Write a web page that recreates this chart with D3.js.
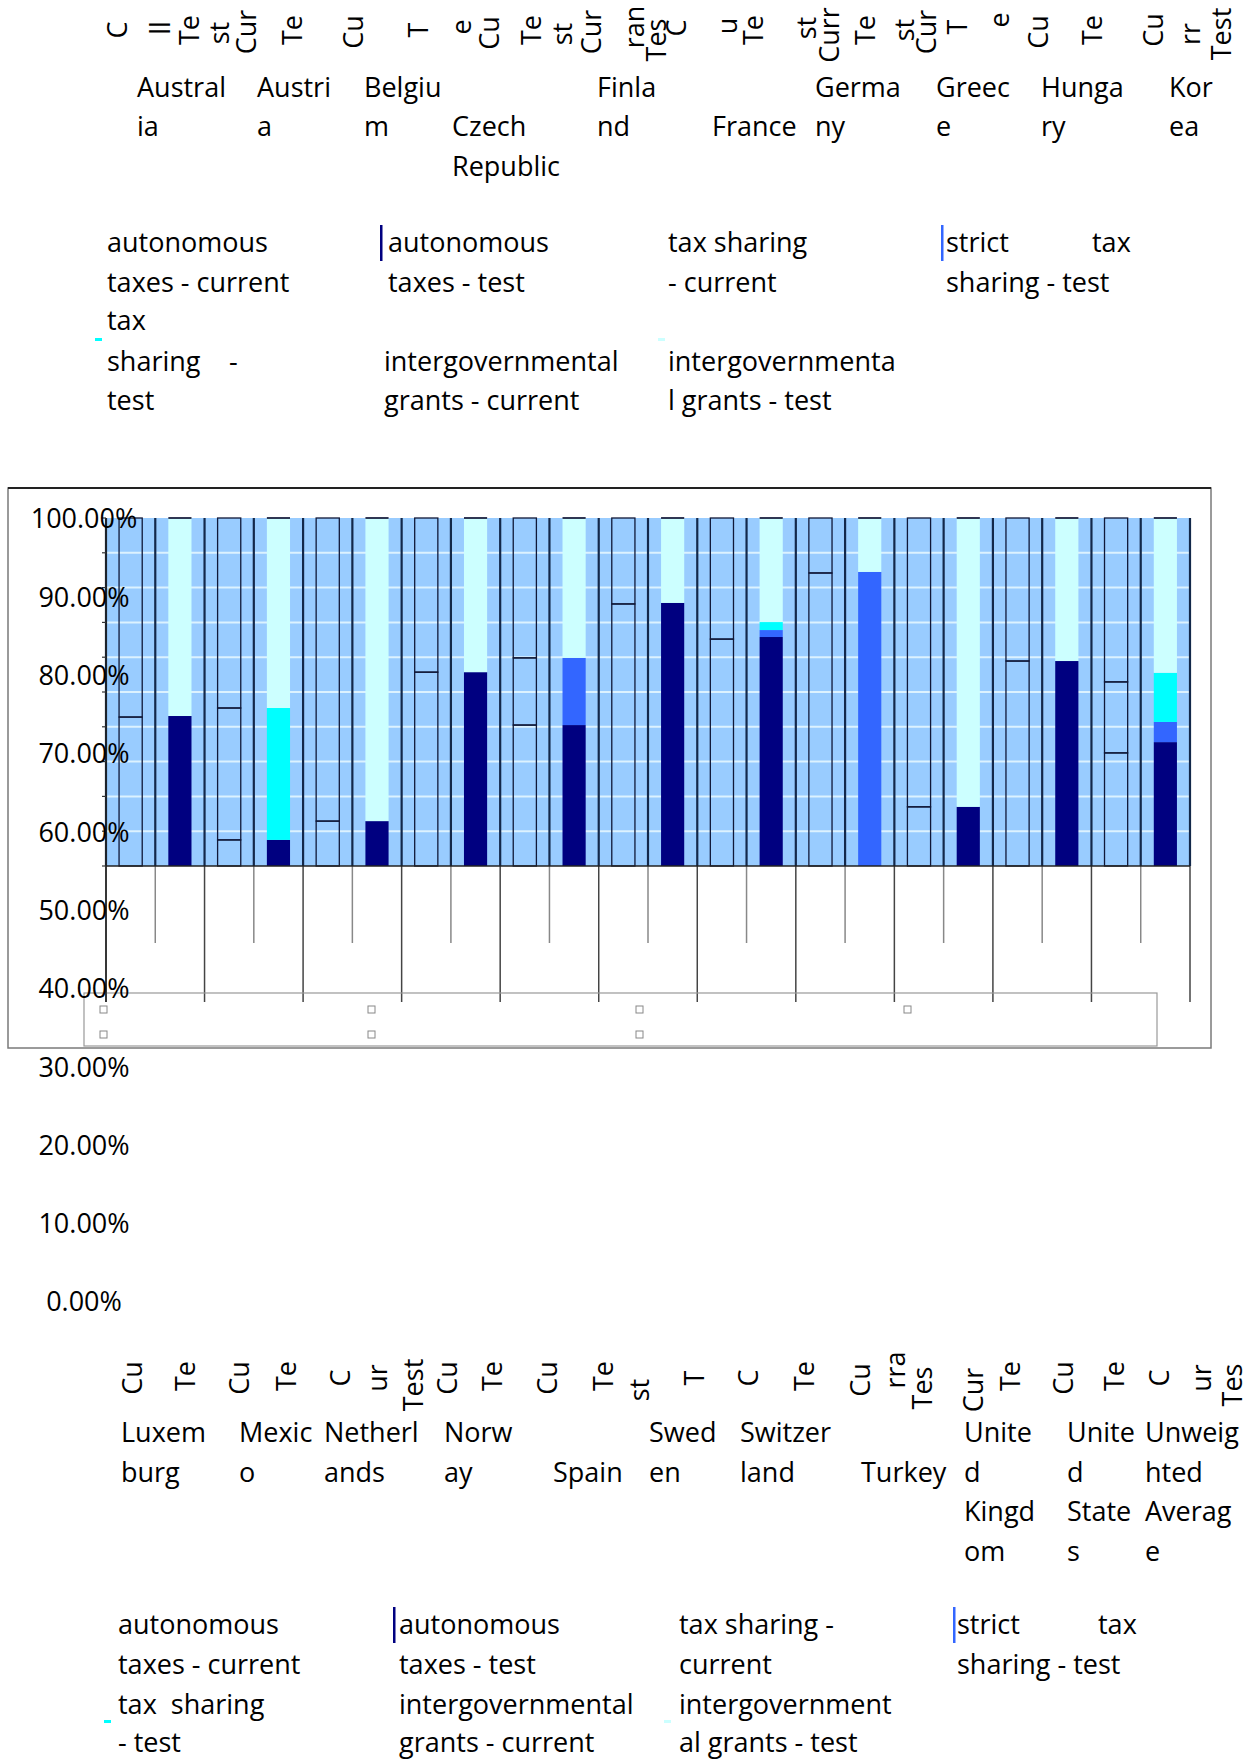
<!DOCTYPE html>
<html lang="en">
<head>
<meta charset="utf-8">
<title>Revenue structure: current vs test</title>
<script src="https://cdn.jsdelivr.net/npm/d3@7"></script>
<style>
  body { margin: 0; background: #fff; }
  svg text { font-family: "Open Sans", "Noto Sans", sans-serif; fill: #000; }
</style>
</head>
<body>
<script>
// ---- data ----
var groups = ["Australia", "Austria", "Belgium", "Czech Republic", "Finland", "France",
              "Germany", "Greece", "Hungary", "Korea", "Luxembourg"];

// current (outlined bars)
var autonomousCurrent = [0.428, 0.075, 0.129, 0.557, 0.405, 0.753, 0.652, 0.000, 0.170, 0.589, 0.325];
var taxSharingCurrent = [0.000, 0.379, 0.000, 0.000, 0.193, 0.000, 0.000, 0.842, 0.000, 0.000, 0.204];
var grantsCurrent     = [0.572, 0.546, 0.871, 0.443, 0.402, 0.247, 0.348, 0.158, 0.830, 0.411, 0.471];

// test (filled bars)
var autonomousTest    = [0.431, 0.075, 0.129, 0.557, 0.405, 0.756, 0.658, 0.000, 0.170, 0.589, 0.356];
var strictSharingTest = [0.000, 0.000, 0.000, 0.000, 0.193, 0.000, 0.020, 0.845, 0.000, 0.000, 0.058];
var taxSharingTest    = [0.000, 0.379, 0.000, 0.000, 0.000, 0.000, 0.023, 0.000, 0.000, 0.000, 0.141];
var grantsTest        = [0.569, 0.546, 0.871, 0.443, 0.402, 0.244, 0.299, 0.155, 0.830, 0.411, 0.445];

var yTicks = [0, 0.1, 0.2, 0.3, 0.4, 0.5, 0.6, 0.7, 0.8, 0.9, 1.0];

var seriesNames = ["autonomous taxes - current", "autonomous taxes - test", "tax sharing - current",
                   "strict tax sharing - test", "tax sharing - test",
                   "intergovernmental grants - current", "intergovernmental grants - test"];

// axis labels as they were broken in the picture ("|" = line break)
var topCountries = ["Austral|ia", "Austri|a", "Belgiu|m", "Czech|Republic", "Finla|nd", "France",
                    "Germa|ny", "Greec|e", "Hunga|ry", "Kor|ea"];
var bottomCountries = ["Luxem|burg", "Mexic|o", "Netherl|ands", "Norw|ay", "Spain", "Swed|en",
                       "Switzer|land", "Turkey", "Unite|d|Kingd|om", "Unite|d|State|s", "Unweig|hted|Averag|e"];

// clipped rotated fragments of the "Current"/"Test" labels
var topSnips = ["C", "ll", "Te", "st", "Cur", "Te", "Cu", "T", "e", "Cu", "Te", "st", "Cur", "ran", "Tes",
                "C", "u", "Te", "st", "Curr", "Te", "st", "Cur", "T", "e", "Cu", "Te", "Cu", "rr", "Test"];
var bottomSnips = ["Cu", "Te", "Cu", "Te", "C", "ur", "Test", "Cu", "Te", "Cu", "Te", "st", "T", "C", "Te",
                   "Cu", "rra", "Tes", "Cur", "Te", "Cu", "Te", "C", "ur", "Tes"];

// legend text as wrapped in the picture: [column, row, text, dx]
var legendTopLines = [
  [0, 0, "autonomous", 0], [0, 1, "taxes - current", 0], [0, 2, "tax", 0], [0, 3, "sharing", 0], [0, 3, "-", 122], [0, 4, "test", 0],
  [1, 0, "autonomous", 4], [1, 1, "taxes - test", 4], [1, 3, "intergovernmental", 0], [1, 4, "grants - current", 0],
  [2, 0, "tax sharing", 0], [2, 1, "- current", 0], [2, 3, "intergovernmenta", 0], [2, 4, "l grants - test", 0],
  [3, 0, "strict", 0], [3, 0, "tax", 146], [3, 1, "sharing - test", 0]
];
var legendBottomLines = [
  [0, 0, "autonomous", 0], [0, 1, "taxes - current", 0], [0, 2, "tax  sharing", 0], [0, 3, "- test", 0],
  [1, 0, "autonomous", 0], [1, 1, "taxes - test", 0], [1, 2, "intergovernmental", 0], [1, 3, "grants - current", 0],
  [2, 0, "tax sharing -", 0], [2, 1, "current", 0], [2, 2, "intergovernment", 0], [2, 3, "al grants - test", 0],
  [3, 0, "strict", 0], [3, 0, "tax", 141], [3, 1, "sharing - test", 0]
];

// ---- layout ----
var W = 1256, H = 1762;
var fontSize = 27;
var colors = {
  "autonomous taxes - test": "#000080",
  "strict tax sharing - test": "#3366ff",
  "tax sharing - test": "#00ffff",
  "intergovernmental grants - test": "#ccffff"
};

var svg = d3.select("body").append("svg")
    .attr("width", W)
    .attr("height", H);

var barKeys = [];
groups.forEach(function (g) { barKeys.push(g + "|current", g + "|test"); });

var x = d3.scaleBand().domain(barKeys).range([106, 1190])
    .paddingInner(0.53).paddingOuter(0.265);
var yPlot = d3.scaleLinear().domain([0, 1]).range([866, 518]);   // inner plot scale
var yLab = d3.scaleLinear().domain([0, 1]).range([1302, 519]);   // misplaced label scale

// chart frame
svg.append("rect")
    .attr("x", 8).attr("y", 488).attr("width", 1203).attr("height", 560)
    .attr("fill", "none").attr("stroke", "#7a7a7a").attr("stroke-width", 1.5);
svg.append("line")
    .attr("x1", 8).attr("x2", 1211).attr("y1", 488).attr("y2", 488)
    .attr("stroke", "#222").attr("stroke-width", 2);

// plot background
svg.append("rect")
    .attr("x", x.range()[0]).attr("y", yPlot(1))
    .attr("width", x.range()[1] - x.range()[0]).attr("height", yPlot(0) - yPlot(1))
    .attr("fill", "#99ccff");

svg.selectAll("line.grid")
    .data(yTicks.slice(1, -1))
    .enter().append("line")
    .attr("class", "grid")
    .attr("x1", x.range()[0]).attr("x2", x.range()[1])
    .attr("y1", function (d) { return yPlot(d); })
    .attr("y2", function (d) { return yPlot(d); })
    .attr("stroke", "#dcf2ff").attr("stroke-width", 2);

// separators between bars, continuing under the plot
var gap = x.step() * x.paddingInner() / 2;
var sepX = barKeys.map(function (k) { return x(k) - gap; }).concat([x.range()[1]]);

svg.selectAll("line.sep-low")
    .data(sepX)
    .enter().append("line")
    .attr("class", "sep-low")
    .attr("x1", function (d) { return d; }).attr("x2", function (d) { return d; })
    .attr("y1", yPlot(0))
    .attr("y2", function (d, i) { return i % 2 === 0 ? 1002 : 943; })
    .attr("stroke", function (d, i) { return i % 2 === 0 ? "#444" : "#888"; })
    .attr("stroke-width", 1.5);

svg.selectAll("line.sep")
    .data(sepX)
    .enter().append("line")
    .attr("class", "sep")
    .attr("x1", function (d) { return d; }).attr("x2", function (d) { return d; })
    .attr("y1", yPlot(1)).attr("y2", yPlot(0))
    .attr("stroke", "#13284a").attr("stroke-width", 2.2);

// lower (empty) legend box inside the chart
svg.append("rect")
    .attr("x", 84).attr("y", 993).attr("width", 1073).attr("height", 53)
    .attr("fill", "none").attr("stroke", "#999").attr("stroke-width", 1.2);

svg.selectAll("rect.leg-sq")
    .data(seriesNames)
    .enter().append("rect")
    .attr("class", "leg-sq")
    .attr("x", function (d, i) { return 100 + 268 * Math.floor(i / 2); })
    .attr("y", function (d, i) { return i % 2 === 0 ? 1006 : 1031; })
    .attr("width", 7).attr("height", 7)
    .attr("fill", "#fff").attr("stroke", "#888").attr("stroke-width", 1);

// stacked bars
var curTable = groups.map(function (g, i) {
  return { key: g + "|current", auto: autonomousCurrent[i], ts: taxSharingCurrent[i], grants: grantsCurrent[i] };
});
var testTable = groups.map(function (g, i) {
  return { key: g + "|test", auto: autonomousTest[i], strict: strictSharingTest[i],
           ts: taxSharingTest[i], grants: grantsTest[i] };
});

var curStack = d3.stack().keys(["auto", "ts", "grants"])(curTable);
var testStack = d3.stack().keys(["auto", "strict", "ts", "grants"])(testTable);
var testFill = {
  auto: colors["autonomous taxes - test"],
  strict: colors["strict tax sharing - test"],
  ts: colors["tax sharing - test"],
  grants: colors["intergovernmental grants - test"]
};

var gTest = svg.append("g");
testStack.forEach(function (s) {
  gTest.selectAll(null)
      .data(s.filter(function (d) { return d[1] - d[0] > 0.0005; }))
      .enter().append("rect")
      .attr("x", function (d) { return x(d.data.key); })
      .attr("width", x.bandwidth())
      .attr("y", function (d) { return yPlot(d[1]); })
      .attr("height", function (d) { return yPlot(d[0]) - yPlot(d[1]); })
      .attr("fill", testFill[s.key]);
});
gTest.selectAll("line.top")
    .data(testTable)
    .enter().append("line")
    .attr("x1", function (d) { return x(d.key); })
    .attr("x2", function (d) { return x(d.key) + x.bandwidth(); })
    .attr("y1", yPlot(1)).attr("y2", yPlot(1))
    .attr("stroke", "#1a2040").attr("stroke-width", 1.8);

var gCur = svg.append("g");
curStack.forEach(function (s) {
  gCur.selectAll(null)
      .data(s.filter(function (d) { return d[1] - d[0] > 0.0005; }))
      .enter().append("rect")
      .attr("x", function (d) { return x(d.data.key); })
      .attr("width", x.bandwidth())
      .attr("y", function (d) { return yPlot(d[1]); })
      .attr("height", function (d) { return yPlot(d[0]) - yPlot(d[1]); })
      .attr("fill", "none")
      .attr("stroke", "#101838").attr("stroke-width", 1.3);
});

// plot frame lines
svg.append("line")
    .attr("x1", x.range()[0]).attr("x2", x.range()[1])
    .attr("y1", yPlot(0)).attr("y2", yPlot(0))
    .attr("stroke", "#222").attr("stroke-width", 1.5);
svg.append("line")
    .attr("x1", x.range()[0]).attr("x2", x.range()[0])
    .attr("y1", yPlot(1)).attr("y2", 1002)
    .attr("stroke", "#222").attr("stroke-width", 1.5);
svg.selectAll("line.ytick")
    .data(yTicks)
    .enter().append("line")
    .attr("x1", x.range()[0] - 4).attr("x2", x.range()[0])
    .attr("y1", function (d) { return yPlot(d); })
    .attr("y2", function (d) { return yPlot(d); })
    .attr("stroke", "#333").attr("stroke-width", 1.2);

// y labels (drawn on their own, misaligned scale)
svg.selectAll("text.ylab")
    .data(yTicks)
    .enter().append("text")
    .attr("class", "ylab")
    .attr("x", 84)
    .attr("y", function (d) { return yLab(d); })
    .attr("dy", "0.35em")
    .attr("text-anchor", "middle")
    .style("font-size", fontSize + "px")
    .text(d3.format(".2%"));

// country labels
function drawCountries(labels, xs, starts, lineY) {
  labels.forEach(function (lab, i) {
    lab.split("|").forEach(function (part, j) {
      svg.append("text")
          .attr("x", xs[i])
          .attr("y", lineY[starts[i] + j])
          .style("font-size", fontSize + "px")
          .text(part);
    });
  });
}
drawCountries(topCountries,
    [137, 257, 364, 452, 597, 712, 815, 936, 1041, 1169],
    [0, 0, 0, 1, 0, 1, 0, 0, 0, 0],
    [97, 136, 176]);
drawCountries(bottomCountries,
    [121, 239, 324, 444, 553, 649, 740, 861, 964, 1067, 1145],
    [0, 0, 0, 0, 1, 0, 0, 1, 0, 0, 0],
    [1442, 1482, 1521, 1561]);

// rotated fragments
function drawSnips(snips, xs, ys) {
  svg.selectAll(null)
      .data(snips)
      .enter().append("text")
      .attr("transform", function (d, i) { return "translate(" + xs[i] + "," + ys[i] + ") rotate(-90)"; })
      .attr("text-anchor", "middle")
      .attr("dy", "0.35em")
      .style("font-size", fontSize + "px")
      .text(function (d) { return d; });
}
drawSnips(topSnips,
    [118, 161, 190, 220, 247, 293, 354, 419, 462, 490, 532, 563, 592, 635, 657,
     677, 728, 754, 807, 830, 866, 905, 927, 958, 1000, 1039, 1093, 1154, 1191, 1222],
    [30, 28, 30, 33, 32, 30, 32, 30, 27, 33, 30, 34, 32, 27, 40,
     28, 26, 30, 28, 35, 30, 30, 32, 27, 20, 32, 30, 30, 34, 34]);
drawSnips(bottomSnips,
    [133, 186, 240, 287, 341, 378, 414, 448, 493, 548, 604, 640, 695, 749, 805,
     861, 896, 923, 974, 1011, 1064, 1115, 1160, 1202, 1233],
    [1378, 1376, 1378, 1376, 1378, 1378, 1385, 1378, 1376, 1378, 1376, 1390, 1378, 1378, 1376,
     1380, 1370, 1388, 1390, 1376, 1378, 1376, 1378, 1378, 1385]);

// legends above and below
function drawLegend(lines, colX, rowY, markers) {
  lines.forEach(function (l) {
    svg.append("text")
        .attr("x", colX[l[0]] + l[3])
        .attr("y", rowY[l[1]])
        .style("font-size", fontSize + "px")
        .style("white-space", "pre")
        .text(l[2]);
  });
  markers.forEach(function (m) {
    svg.append("rect")
        .attr("x", m[1]).attr("y", m[2]).attr("width", m[3]).attr("height", m[4])
        .attr("fill", colors[m[0]]);
  });
}
drawLegend(legendTopLines, [107, 384, 668, 946], [252, 292, 330, 371, 410], [
  ["autonomous taxes - test", 380, 225, 2.5, 36],
  ["strict tax sharing - test", 941, 225, 2.5, 36],
  ["tax sharing - test", 95, 338, 7, 3],
  ["intergovernmental grants - test", 658, 338, 7, 3]
]);
drawLegend(legendBottomLines, [118, 399, 679, 957], [1634, 1674, 1714, 1752], [
  ["autonomous taxes - test", 393, 1607, 2.5, 36],
  ["strict tax sharing - test", 953, 1607, 2.5, 36],
  ["tax sharing - test", 104, 1720, 7, 3],
  ["intergovernmental grants - test", 664, 1720, 7, 3]
]);
</script>
</body>
</html>
